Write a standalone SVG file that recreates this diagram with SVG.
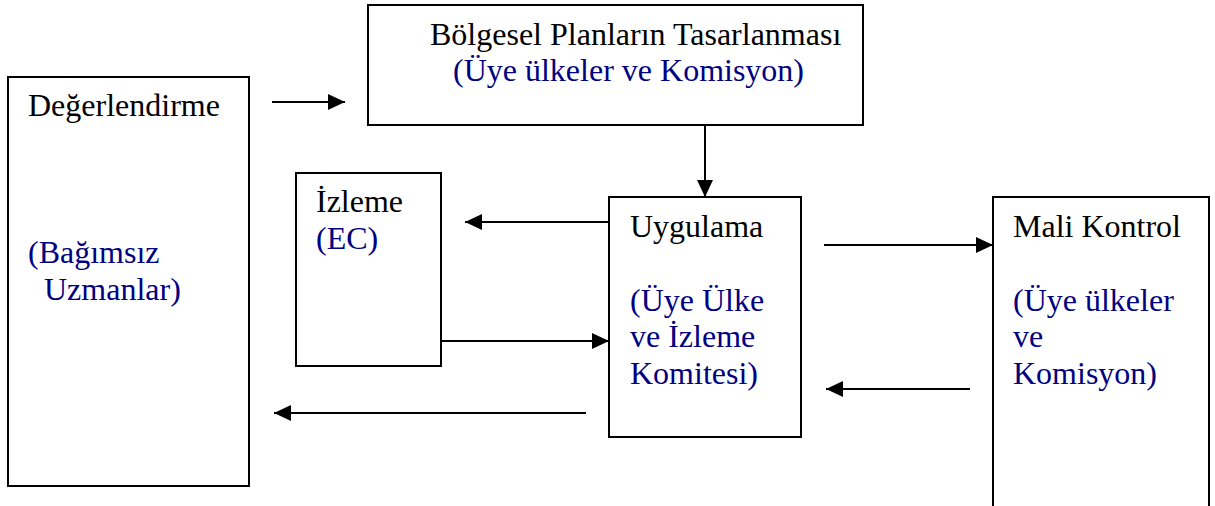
<svg xmlns="http://www.w3.org/2000/svg" width="1215" height="506" viewBox="0 0 1215 506">
<style>
.box{fill:#fff;stroke:#000;stroke-width:2}
.b{fill:#000080}
.c{stroke:#000;stroke-width:2;fill:none;marker-end:url(#ah)}
</style>
<defs>
<marker id="ah" markerUnits="userSpaceOnUse" markerWidth="17" markerHeight="16" refX="17" refY="8" orient="auto" viewBox="0 0 17 16">
<path d="M0,0 L17,8 L0,16 z" fill="#000"/>
</marker>
</defs>
<g id="degerlendirme" font-family="Liberation Serif" font-size="32">
<rect class="box" x="8" y="77" width="241" height="409"/>
<text x="28" y="116">Değerlendirme</text>
<text class="b" x="28" y="263">(Bağımsız</text>
<text class="b" x="44" y="300">Uzmanlar)</text>
</g>
<g id="bolgesel" font-family="Liberation Serif" font-size="32">
<rect class="box" x="368" y="5" width="495" height="120"/>
<text x="430" y="45">Bölgesel Planların Tasarlanması</text>
<text class="b" x="453" y="81">(Üye ülkeler ve Komisyon)</text>
</g>
<g id="izleme" font-family="Liberation Serif" font-size="32">
<rect class="box" x="296" y="173" width="145" height="193"/>
<text x="316" y="212">İzleme</text>
<text class="b" x="316" y="249">(EC)</text>
</g>
<g id="uygulama" font-family="Liberation Serif" font-size="32">
<rect class="box" x="609" y="197" width="192" height="240"/>
<text x="630" y="237">Uygulama</text>
<text class="b" x="630" y="311">(Üye Ülke</text>
<text class="b" x="630" y="347">ve İzleme</text>
<text class="b" x="630" y="384">Komitesi)</text>
</g>
<g id="mali" font-family="Liberation Serif" font-size="32">
<path class="box" d="M993,520 V197 H1209 V520"/>
<text x="1013" y="237">Mali Kontrol</text>
<text class="b" x="1013" y="311">(Üye ülkeler</text>
<text class="b" x="1013" y="347">ve</text>
<text class="b" x="1013" y="384">Komisyon)</text>
</g>
<g id="connectors">
<line class="c" x1="272" y1="102" x2="345" y2="102"/>
<line class="c" x1="705" y1="125" x2="705" y2="197"/>
<line class="c" x1="609" y1="222" x2="465" y2="222"/>
<line class="c" x1="441" y1="341" x2="609" y2="341"/>
<line class="c" x1="824" y1="245" x2="993" y2="245"/>
<line class="c" x1="970" y1="389" x2="826" y2="389"/>
<line class="c" x1="586" y1="413" x2="274" y2="413"/>
</g>
</svg>
